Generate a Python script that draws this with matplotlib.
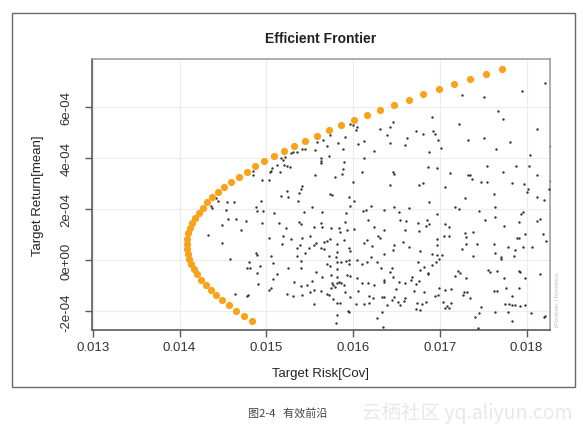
import numpy as np
import matplotlib
matplotlib.use("Agg")
import matplotlib.pyplot as plt
from matplotlib.patches import Rectangle

plt.rcParams['font.family'] = ['Liberation Sans', 'DejaVu Sans']

# efficient frontier points (risk, mean return)
frontier_risk = [0.014840, 0.014744, 0.014654, 0.014571, 0.014493, 0.014422, 0.014358, 0.014300,
                 0.014249, 0.014205, 0.014168, 0.014137, 0.014114, 0.014097, 0.014088, 0.014085,
                 0.014090, 0.014101, 0.014120, 0.014146, 0.014178, 0.014218, 0.014264, 0.014317,
                 0.014377, 0.014443, 0.014516, 0.014596, 0.014681, 0.014773, 0.014871, 0.014975,
                 0.015085, 0.015200, 0.015322, 0.015448, 0.015580, 0.015717, 0.015859, 0.016007,
                 0.016158, 0.016314, 0.016476, 0.016641, 0.016811, 0.016985, 0.017163, 0.017345,
                 0.017530, 0.017720]
frontier_ret = [-2.370e-4, -2.169e-4, -1.967e-4, -1.766e-4, -1.564e-4, -1.363e-4, -1.162e-4, -0.960e-4,
                -0.759e-4, -0.557e-4, -0.356e-4, -0.155e-4, 0.047e-4, 0.248e-4, 0.450e-4, 0.651e-4,
                0.852e-4, 1.054e-4, 1.255e-4, 1.457e-4, 1.658e-4, 1.859e-4, 2.061e-4, 2.262e-4,
                2.464e-4, 2.665e-4, 2.866e-4, 3.068e-4, 3.269e-4, 3.471e-4, 3.672e-4, 3.873e-4,
                4.075e-4, 4.276e-4, 4.478e-4, 4.679e-4, 4.880e-4, 5.082e-4, 5.283e-4, 5.485e-4,
                5.686e-4, 5.887e-4, 6.089e-4, 6.290e-4, 6.492e-4, 6.693e-4, 6.894e-4, 7.096e-4,
                7.297e-4, 7.499e-4]

# random portfolios: risk in 1e-3, return in 1e-4
sample_risk_1e3 = [
    16.458, 16.424, 16.308, 16.393, 16.420, 16.239, 16.120, 16.055, 16.028, 16.047, 16.001, 15.970,
    15.901, 15.886, 15.824, 15.728, 15.656, 15.702, 15.725, 15.629, 15.629, 15.632, 15.563, 15.583,
    16.124, 15.894, 15.882, 15.871, 15.786, 15.560, 15.410, 15.440, 15.356, 15.310, 15.279, 15.210,
    15.164, 15.195, 15.199, 15.241, 15.268, 15.118, 15.152, 15.068, 15.049, 15.041, 14.953, 15.033,
    14.849, 14.841, 15.414, 15.394, 15.233, 15.375, 15.736, 15.997, 16.105, 16.462, 16.470, 16.424,
    18.217, 17.945, 17.507, 17.250, 17.672, 17.726, 18.121, 17.219, 16.912, 16.727, 16.804, 16.919,
    16.942, 16.620, 16.597, 16.981, 17.326, 17.511, 17.810, 17.649, 17.011, 16.873, 18.041, 16.858,
    16.973, 17.119, 17.319, 17.349, 17.372, 17.480, 17.549, 17.541, 17.733, 17.879, 18.025, 18.121,
    17.833, 17.971, 18.018, 18.002, 18.256, 16.758, 16.804, 17.065, 17.626, 18.280, 18.280,
    14.422, 14.446, 14.549, 14.626, 14.357, 14.376, 14.538, 14.557, 14.645, 14.768, 14.492, 14.710,
    14.326, 14.484, 14.576, 14.638, 14.772,
    14.934, 15.164, 15.248, 15.364, 14.876, 14.895, 14.957, 15.087, 14.949, 15.529, 15.644, 15.433,
    15.759, 15.951, 16.009, 15.963, 15.920, 16.116, 16.147, 16.201, 16.354, 16.477, 16.527, 16.170,
    16.239, 16.354, 16.285, 16.308, 16.155, 16.124, 16.220, 16.201, 16.354, 16.470, 16.458, 16.546,
    15.145, 15.229, 15.371, 15.394, 15.548, 15.632, 15.640, 15.740, 15.840, 15.901, 15.851, 15.932,
    16.009, 15.030, 15.195, 15.279, 15.414, 15.498, 15.183, 15.348, 15.383, 15.548, 15.571, 15.663,
    15.702, 15.732, 15.817, 15.894, 15.951, 15.963, 15.817, 15.801, 15.721, 15.663, 15.625, 15.494,
    15.440, 15.356, 15.394, 14.876, 14.895, 15.049, 14.799, 14.811, 14.926, 15.080, 15.248, 15.394,
    15.567, 15.644, 15.702, 15.732, 15.809, 15.863, 15.913, 15.951, 15.951, 16.047, 16.105, 16.162,
    16.278, 16.324, 16.424, 16.450, 16.458, 15.817, 15.932, 15.970, 16.047, 16.105, 16.170, 16.239,
    16.354, 16.362, 16.527, 16.489, 14.895, 15.118, 15.080, 14.903, 15.318, 15.394, 15.471, 15.529,
    15.740, 15.809, 15.752, 15.771, 15.794, 15.817, 15.836, 15.863, 15.894, 15.901, 15.740, 15.721,
    15.694, 15.632, 15.548, 15.502, 15.414, 15.310, 15.241, 15.033, 15.049, 15.548, 15.809, 15.771,
    15.848, 15.970, 16.055, 16.028, 16.124, 16.182, 16.232, 16.335, 16.354, 16.450, 16.470, 16.516,
    16.539, 16.393, 16.182, 15.951, 15.940, 15.809, 15.798, 16.278, 16.347, 16.335, 14.788, 14.780,
    16.873, 16.650, 17.180, 17.219, 17.288, 17.449, 17.641, 17.634, 17.526, 17.737, 17.918, 17.956,
    17.941, 18.121, 18.198, 18.121, 18.160, 16.612, 16.854, 16.750, 16.835, 16.873, 17.065, 17.111,
    16.969, 16.597, 16.758, 16.969, 16.969, 16.574, 17.050, 17.111, 17.288, 17.296, 17.380, 17.434,
    17.303, 17.250, 17.626, 17.641, 17.787, 17.872, 17.852, 17.710, 17.703, 17.887, 17.910, 17.979,
    17.956, 18.064, 18.186, 18.225, 16.650, 16.777, 16.912, 16.969, 16.988, 16.950, 17.027, 16.912,
    17.380, 16.750, 16.816, 16.866, 16.866, 16.681, 16.662, 16.758, 16.720, 16.604, 16.777, 17.180,
    17.211, 17.238, 17.296, 17.557, 17.584, 17.660, 17.737, 17.910, 17.929, 17.987, 18.160, 16.996,
    17.065, 17.134, 17.276, 17.315, 17.353, 17.265, 16.942, 16.981, 17.622, 17.660, 17.764, 17.910,
    17.833, 16.700, 16.816, 16.604, 16.585, 16.739, 16.789, 16.835, 16.720, 16.777, 17.042, 17.084,
    17.134, 17.104, 17.058, 17.480, 17.411, 17.457, 17.641, 17.756, 17.795, 17.833, 17.872, 17.929,
    17.979, 17.787, 18.056, 18.198, 17.833, 17.442, 18.217,
]
sample_ret_1e4 = [
    5.421, 5.212, 5.146, 4.885, 4.584, 4.271, 4.663, 4.558, 5.107, 5.212, 5.303, 5.316,
    4.820, 4.362, 4.584, 4.885, 4.715, 4.467, 4.101, 4.009, 3.905, 3.800, 4.336, 4.650,
    4.009, 3.839, 3.578, 3.382, 3.264, 3.330, 4.362, 4.362, 4.257, 4.231, 4.192, 4.062,
    4.009, 3.931, 3.735, 3.709, 3.669, 3.748, 3.473, 3.617, 3.513, 3.447, 3.147, 3.160,
    3.499, 3.343, 2.898, 2.794, 2.702, 2.624, 2.598, 3.081, 3.447, 3.473, 3.369, 2.964,
    6.950, 6.623, 6.388, 6.479, 5.852, 5.525, 5.146, 5.316, 5.617, 5.042, 4.950, 5.042,
    4.950, 4.780, 4.519, 4.728, 4.715, 4.806, 4.650, 4.362, 4.388, 4.231, 4.127, 3.669,
    3.630, 3.408, 3.356, 3.356, 3.186, 3.081, 3.081, 3.682, 3.447, 3.682, 3.682, 3.343,
    3.016, 3.003, 2.794, 2.663, 2.781, 2.951, 3.029, 2.872, 2.611, 4.490, 3.120,
    2.455, 2.338, 2.272, 2.272, 2.142, 2.037, 1.959, 1.619, 1.619, 1.541, 1.384, 1.188,
    0.992, 0.665, 0.051, -1.322, -1.387,
    2.325, 2.521, 2.495, 2.338, 2.076, 1.933, 1.933, 1.841, 1.475, 2.103, 1.880, 1.907,
    2.560, 2.495, 2.325, 2.142, 1.841, 1.946, 1.972, 2.129, 1.972, 2.103, 1.907, 1.580,
    1.318, 1.188, 0.965, 0.861, 0.796, 0.665, 0.573, 0.142, 0.234, 0.600, 0.403, 1.580,
    1.449, 1.253, 1.514, 1.436, 1.318, 1.449, 1.318, 1.253, 1.279, 1.488, 1.096, 1.188,
    1.214, 0.861, 0.952, 0.835, 0.861, 0.952, 0.626, 0.495, 0.600, 0.600, 0.665, 0.730,
    0.769, 0.822, 0.626, 0.782, 0.469, 0.364, 0.338, 0.142, 0.181, 0.443, 0.469, 0.495,
    0.299, 0.168, -0.028, 0.299, 0.207, 0.181, -0.054, -0.289, -0.211, -0.093, -0.315, -0.289,
    -0.446, -0.642, -0.159, -0.224, -0.054, -0.054, -0.028, 0.011, -0.159, 0.011, -0.159, -0.054,
    -0.054, -0.289, -0.446, -0.289, -0.642, -0.342, -0.577, -0.616, -0.708, -0.904, -0.904, -0.969,
    -0.773, -0.864, -0.864, -1.126, -0.511, -0.551, -0.747, -0.943, -0.838, -1.008, -0.969, -0.812,
    -0.577, -0.642, -0.904, -0.969, -1.034, -0.904, -0.864, -0.904, -0.969, -1.256, -1.100, -1.361,
    -1.335, -1.204, -1.165, -1.230, -1.361, -1.387, -1.335, -1.165, -1.100, -1.727, -1.688, -1.518,
    -1.688, -1.426, -1.204, -1.714, -1.714, -1.400, -1.492, -1.426, -1.452, -1.557, -1.426, -1.649,
    -1.753, -1.753, -1.688, -2.015, -1.988, -2.145, -2.446, -2.250, -2.603, -2.015, -1.361, -0.289,
    2.272, 2.037, 2.076, 1.998, 2.455, 1.933, 2.076, 1.710, 1.580, 1.344, 1.514, 1.880,
    1.828, 2.495, 2.377, 1.541, 1.619, 1.554, 1.580, 1.449, 1.358, 1.410, 1.410, 1.292,
    1.815, 1.188, 1.148, 0.822, 0.600, 0.730, 0.952, 0.939, 1.057, 0.900, 1.096, 0.626,
    0.626, 0.443, 0.652, 0.273, 0.534, 0.403, 0.181, 0.142, 0.051, 0.861, 0.887, 1.018,
    0.508, 0.508, 1.044, 0.769, 0.508, 0.377, 0.247, 0.207, 0.051, -0.054, 0.207, -0.185,
    0.168, -0.080, -0.250, -0.485, -0.551, -0.642, -0.773, -0.812, -0.943, -0.904, -0.381, -0.616,
    -0.420, -0.511, -0.682, -0.381, -0.472, -0.420, -0.682, -0.420, -0.446, -0.682, -0.538, -1.073,
    -1.165, -1.126, -1.256, -1.230, -1.492, -1.361, -1.400, -1.361, -1.191, -1.204, -1.073, -1.100,
    -1.400, -1.191, -1.230, -1.492, -1.596, -1.662, -1.714, -1.649, -1.910, -1.949, -1.649, -1.779,
    -1.688, -1.884, -1.858, -1.845, -2.211, -2.080, -2.015, -1.727, -1.701, -1.753, -1.753, -1.779,
    -1.753, -2.041, -2.080, -2.211, -2.367, -2.642, -2.171,
]

x_ticks = [0.013, 0.014, 0.015, 0.016, 0.017, 0.018]
y_ticks = [-2e-4, 0, 2e-4, 4e-4, 6e-4]

sample_risk = np.array(sample_risk_1e3) * 1e-3
sample_ret = np.array(sample_ret_1e4) * 1e-4

fig = plt.figure(figsize=(5.83, 4.35), dpi=100)

# outer frame of the figure
fig.patches.append(Rectangle((12 / 583, 1 - 388 / 435), 563 / 583, 374 / 435,
                             transform=fig.transFigure, fill=False,
                             edgecolor='#6a6a6a', linewidth=1.0))

ax = fig.add_axes([92 / 583, 1 - 331 / 435, 458 / 583, 271 / 435])
ax.scatter(sample_risk, sample_ret, s=3, color='#333333', marker='o', linewidths=0, zorder=3)
ax.scatter(frontier_risk, frontier_ret, s=27, color='#F9A21B', linewidths=0, zorder=4)

ax.set_xlim(0.01299, 0.01827)
ax.set_ylim(-2.73e-4, 7.88e-4)
ax.set_xticks(x_ticks)
ax.set_yticks(y_ticks)
ax.set_xticklabels([f"{v:.3f}" for v in x_ticks])
ax.set_yticklabels([f"{v:.0e}" for v in y_ticks])
ax.grid(True, color='#ececec', linewidth=0.8)
ax.set_axisbelow(True)

for side in ['top', 'right']:
    ax.spines[side].set_color('#a0a0a0')
for side in ['left', 'bottom']:
    ax.spines[side].set_color('#5a5a5a')
for sp in ax.spines.values():
    sp.set_linewidth(1.2)

ax.tick_params(axis='both', direction='out', length=5, width=1, color='#5a5a5a',
               labelsize=9.5, labelcolor='#333333')
ax.tick_params(axis='x', pad=3)
ax.tick_params(axis='y', pad=9)
for lab in ax.get_yticklabels():
    lab.set_rotation(90)
    lab.set_va('center')

ax.set_title('Efficient Frontier', fontsize=10, fontweight='bold', color='#222222', pad=12)
ax.set_xlabel('Target Risk[Cov]', fontsize=9.5, color='#222222')
ax.set_ylabel('Target Return[mean]', fontsize=9.5, color='#222222')
ax.xaxis.set_label_coords(0.5, -0.135)
ax.yaxis.set_label_coords(-0.105, 0.5)

fig.text(557 / 583, 1 - 300 / 435, 'fPortfolio | Rmetrics', rotation=90, fontsize=4.5,
         color='#c0c0c0', ha='center', va='center')

fig.text(248 / 583, 1 - 413 / 435, '图2-4   有效前沿', fontsize=8, color='#444444',
         ha='left', va='center', family=['Noto Sans CJK SC', 'DejaVu Sans'])
fig.text(573 / 583, 1 - 413 / 435, '云栖社区 yq.aliyun.com', fontsize=14, color='#e8e8e8',
         ha='right', va='center', family=['Noto Sans CJK SC', 'DejaVu Sans'])

fig.savefig('out.png', dpi=100)
